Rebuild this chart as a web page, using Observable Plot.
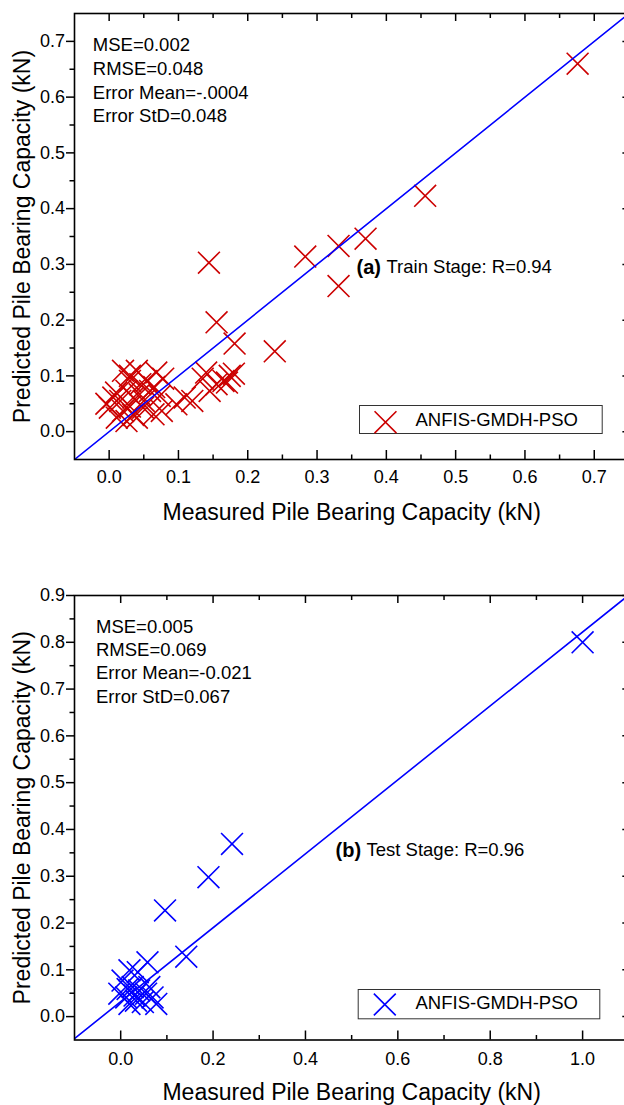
<!DOCTYPE html>
<html>
<head>
<meta charset="utf-8">
<script src="https://cdn.jsdelivr.net/npm/d3@7"></script>
<script src="https://cdn.jsdelivr.net/npm/@observablehq/plot@0.6"></script>
<style>
  html, body { margin: 0; padding: 0; background: #fff; overflow: hidden; }
  #wrap { width: 624px; height: 1105px; overflow: hidden; }
  #wrap svg { display: block; max-width: none; }
</style>
</head>
<body>
<div id="wrap"></div>
<script>
// ---- Data ----
const trainMeasured  = [0.676, 0.456, 0.370, 0.331, 0.331, 0.283, 0.144, 0.155, 0.181, 0.239,
  0.140, 0.174, 0.180, 0.165, 0.145, 0.155, 0.170, 0.135, 0.109, 0.097, 0.120, 0.073, 0.076, 0.064,
  0.040, 0.068, 0.020, 0.030, 0.006, 0.001, 0.011, 0.025, 0.040, 0.030, 0.025, 0.016, 0.035, 0.044,
  0.054, 0.059, 0.049, 0.020, -0.004, 0.030, 0.045, 0.010, 0.050, 0.065, 0.078, 0.035];
const trainPredicted = [0.660, 0.423, 0.346, 0.333, 0.261, 0.314, 0.303, 0.196, 0.158, 0.144,
  0.106, 0.100, 0.104, 0.091, 0.073, 0.085, 0.088, 0.095, 0.061, 0.049, 0.055, 0.064, 0.037, 0.031,
  0.109, 0.106, 0.109, 0.100, 0.061, 0.043, 0.025, 0.019, 0.025, 0.091, 0.073, 0.055, 0.061, 0.067,
  0.091, 0.073, 0.043, 0.037, 0.050, 0.045, 0.085, 0.070, 0.055, 0.080, 0.095, 0.030];

const testMeasured  = [1.000, 0.241, 0.190, 0.096, 0.142, 0.058, 0.037, 0.019, 0.004, 0.026, 0.040,
  0.055, 0.069, 0.077, 0.012, -0.003, 0.019, 0.033, 0.048, 0.030, 0.062, 0.015];
const testPredicted = [0.800, 0.369, 0.298, 0.227, 0.128, 0.116, 0.095, 0.099, 0.077, 0.063, 0.056,
  0.049, 0.041, 0.027, 0.041, 0.049, 0.027, 0.034, 0.031, 0.045, 0.063, 0.059];

// reference lines (endpoints in data units)
const trainLineX = [-0.05, 0.75];
const trainLineY = [-0.05, 0.75];
const testLineX = [-0.1, 1.1];
const testLineY = [-0.047, 0.901];

// ticks
const trainXTicks = [0, 0.1, 0.2, 0.3, 0.4, 0.5, 0.6, 0.7];
const trainXMinor = [0.05, 0.15, 0.25, 0.35, 0.45, 0.55, 0.65];
const trainYTicks = [0, 0.1, 0.2, 0.3, 0.4, 0.5, 0.6, 0.7];
const trainYMinor = [0.05, 0.15, 0.25, 0.35, 0.45, 0.55, 0.65];
const testXTicks = [0, 0.2, 0.4, 0.6, 0.8, 1.0];
const testXMinor = [0.1, 0.3, 0.5, 0.7, 0.9];
const testYTicks = [0, 0.1, 0.2, 0.3, 0.4, 0.5, 0.6, 0.7, 0.8, 0.9];
const testYMinor = [0.05, 0.15, 0.25, 0.35, 0.45, 0.55, 0.65, 0.75, 0.85];

// texts
const trainStats = ["MSE=0.002", "RMSE=0.048", "Error Mean=-.0004", "Error StD=0.048"];
const testStats  = ["MSE=0.005", "RMSE=0.069", "Error Mean=-0.021", "Error StD=0.067"];
const trainTag = "(a)", trainStage = "Train Stage: R=0.94";
const testTag = "(b)", testStage = "Test Stage: R=0.96";
const xTitle = "Measured Pile Bearing Capacity (kN)";
const yTitle = "Predicted Pile Bearing Capacity (kN)";
const seriesName = "ANFIS-GMDH-PSO";

const FONT = "'Liberation Sans', Arial, Helvetica, sans-serif";
const fmt = d3.format(".1f");
const blank = () => "";

function chart(c) {
  const pts = c.mx.map((m, i) => ({m, p: c.py[i]}));
  const line = c.lx.map((x, i) => ({x, y: c.ly[i]}));
  return Plot.plot({
    width: 629,
    height: c.height,
    marginLeft: 74,
    marginRight: c.marginRight,
    marginTop: c.marginTop,
    marginBottom: c.marginBottom,
    style: {fontFamily: FONT, fontSize: "18px", color: "#000", background: "#fff"},
    x: {domain: c.xDomain},
    y: {domain: c.yDomain},
    marks: [
      // data
      Plot.dot(pts, {x: "m", y: "p", symbol: "times", r: 10, stroke: c.color, strokeWidth: 1.6}),
      Plot.line(line, {x: "x", y: "y", stroke: "#0000ff", strokeWidth: 1.6, clip: true}),
      // axes: bottom (labels + inward ticks)
      Plot.axisX(c.xTicks, {anchor: "bottom", tickSize: 0, tickPadding: c.xPad, tickFormat: fmt, fontSize: 18, label: null}),
      Plot.axisX(c.xTicks, {anchor: "bottom", tickSize: -9, tickFormat: blank, strokeWidth: 1.5, label: null}),
      Plot.axisX(c.xMinor, {anchor: "bottom", tickSize: -4.5, tickFormat: blank, strokeWidth: 1.5, label: null}),
      Plot.axisX(c.xTicks, {anchor: "top", tickSize: -7, tickFormat: blank, strokeWidth: 1.5, label: null}),
      Plot.axisX(c.xMinor, {anchor: "top", tickSize: -4, tickFormat: blank, strokeWidth: 1.5, label: null}),
      // axes: left (outward ticks + labels), right (inward)
      Plot.axisY(c.yTicks, {anchor: "left", tickSize: 8, tickPadding: 1.5, tickFormat: fmt, fontSize: 18, strokeWidth: 1.5, label: null}),
      Plot.axisY(c.yMinor, {anchor: "left", tickSize: 4.5, tickFormat: blank, strokeWidth: 1.5, label: null}),
      Plot.axisY(c.yTicks, {anchor: "right", tickSize: -7, tickFormat: blank, strokeWidth: 1.5, label: null}),
      Plot.axisY(c.yMinor, {anchor: "right", tickSize: -4, tickFormat: blank, strokeWidth: 1.5, label: null}),
      Plot.frame({stroke: "#000", strokeWidth: 1.6}),
      // titles
      Plot.text([xTitle], {frameAnchor: "bottom", dy: c.xTitleDy, fontSize: 23, textAnchor: "middle", lineAnchor: "middle", fill: "#000"}),
      Plot.text([yTitle], {frameAnchor: "left", dx: -52, rotate: -90, fontSize: 23, textAnchor: "middle", lineAnchor: "middle", fill: "#000"}),
      // stats
      Plot.text([c.stats.join("\n")], {frameAnchor: "top-left", dx: c.statsDx, dy: 21, textAnchor: "start",
        lineAnchor: "top", lineHeight: c.statsLH, fontSize: 18.5, fill: "#000"}),
      // stage annotation
      Plot.text([c.tag], {frameAnchor: "top-left", dx: c.tagDx, dy: c.tagDy, textAnchor: "start",
        lineAnchor: "middle", fontSize: 20, fontWeight: "bold", fill: "#000"}),
      Plot.text([c.stage], {frameAnchor: "top-left", dx: c.stageDx, dy: c.tagDy, textAnchor: "start",
        lineAnchor: "middle", fontSize: 18.5, fill: "#000"}),
      // legend
      Plot.frame({insetLeft: c.leg.l, insetRight: c.leg.r, insetTop: c.leg.t, insetBottom: c.leg.b, stroke: "#333", strokeWidth: 1}),
      Plot.dot([0], {frameAnchor: "top-left", dx: c.leg.mx, dy: c.leg.my, symbol: "times", r: 10, stroke: c.color, strokeWidth: 1.6}),
      Plot.text([seriesName], {frameAnchor: "top-left", dx: c.leg.tx, dy: c.leg.ty, textAnchor: "start",
        lineAnchor: "middle", fontSize: 18.5, fill: "#000"})
    ]
  });
}

const wrap = document.getElementById("wrap");
wrap.appendChild(chart({
  mx: trainMeasured, py: trainPredicted, lx: trainLineX, ly: trainLineY, color: "#cc0000",
  height: 530, marginRight: 0.6, marginTop: 13, marginBottom: 71,
  xDomain: [-0.05, 0.75], yDomain: [-0.05, 0.75],
  xTicks: trainXTicks, xMinor: trainXMinor, yTicks: trainYTicks, yMinor: trainYMinor,
  xPad: 11, xTitleDy: 52.7,
  stats: trainStats, statsDx: 18.3, statsLH: 1.28,
  tag: trainTag, stage: trainStage, tagDx: 282, stageDx: 312, tagDy: 253.7,
  leg: {l: 285, r: 26.7, t: 392, b: 26, mx: 311, my: 408.7, tx: 341, ty: 407}
}));
wrap.appendChild(chart({
  mx: testMeasured, py: testPredicted, lx: testLineX, ly: testLineY, color: "#0000ff",
  height: 575, marginRight: 0.7, marginTop: 65, marginBottom: 65.5,
  xDomain: [-0.1, 1.1], yDomain: [-0.05, 0.9],
  xTicks: testXTicks, xMinor: testXMinor, yTicks: testYTicks, yMinor: testYMinor,
  xPad: 12, xTitleDy: 52.5,
  stats: testStats, statsDx: 21.5, statsLH: 1.254,
  tag: testTag, stage: testStage, tagDx: 261, stageDx: 292, tagDy: 255,
  leg: {l: 283.7, r: 29, t: 394, b: 21.2, mx: 310.3, my: 409, tx: 341, ty: 408}
}));
</script>
</body>
</html>
